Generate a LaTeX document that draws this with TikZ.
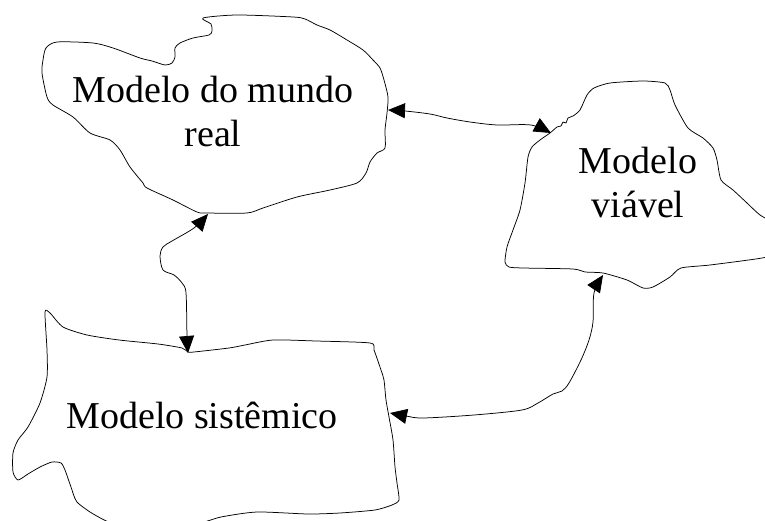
\documentclass[tikz,border=0pt]{standalone}
\usepackage{fontspec}
\usetikzlibrary{arrows.meta}
\newfontfamily\tnrfont{Liberation Serif}
\tikzset{
  outline/.style={draw=black, line width=0.75pt, line join=round},
  conn/.style={draw=black, line width=0.75pt, {Triangle[length=17pt,width=15pt]}-{Triangle[length=17pt,width=15pt]}},
  lbl/.style={font=\tnrfont\fontsize{38}{44}\selectfont, align=center, inner sep=0pt, text=black}
}
\begin{document}
\begin{tikzpicture}[x=1pt,y=-1pt]
\path[use as bounding box] (0,0) rectangle (765,521);
\clip (0,0) rectangle (765,521);
\fill[white] (0,0) rectangle (765,521);

% Shape 1: Modelo do mundo real
\draw[outline] plot[smooth cycle, tension=0.45] coordinates {
 (203,18) (237,15) (293,17) (305,19) (317,25) (330,30) (347,40) (363,50)
 (373,60) (380,68) (384,80) (388,97) (387,113) (385,130) (385,148) (377,153)
 (370,162) (366,173) (357,183) (330,190) (297,197) (263,208) (247,213) (207,213)
 (197,212) (173,200) (147,188) (143,183) (130,167) (120,150) (110,140) (90,133)
 (73,117) (53,105) (47,97) (42,73) (43,60) (46,48) (57,42) (93,43) (113,48)
 (140,58) (152,61) (165,65) (172,63) (175,57) (175,48) (180,43) (193,38)
 (209,35) (212,31) (211,24)};

% Shape 2: Modelo viavel
\draw[outline] plot[smooth cycle, tension=0.4] coordinates {
 (550,133) (540,140) (532,147) (528,157) (525,183) (520,210) (513,230) (507,247)
 (505,262) (509,267) (523,268) (573,269) (585,272) (603,273) (627,280) (643,288)
 (653,287) (670,277) (681,268) (710,265) (762,258) (780,252) (780,228)
 (760,215) (747,203) (733,190) (721,180) (717,160) (713,148) (703,138)
 (688,128) (675,105) (670,90) (665,83) (643,81) (610,83) (594,88) (587,95)
 (580,110) (573,116) (568,118) (566,123) (563,122) (561,126) (557,127)};

% Shape 3: Modelo sistemico
\draw[outline] plot[smooth cycle, tension=0.4] coordinates {
 (45,312) (50,313) (63,327) (87,335) (119,340) (158,344) (182,348) (188,352)
 (194,352) (229,348) (245,345) (273,340) (316,341) (370,343) (374,350)
 (381,370) (384,380) (386,400) (389,417) (393,440) (395,467) (397,483)
 (399,500) (392,505) (375,510) (340,513) (308,514) (257,512) (221,517)
 (190,525) (120,525) (95,515) (77,502) (71,487) (65,470) (61,463)
 (52,462) (40,467) (28,474) (18,480) (13,472) (13,453) (18,440)
 (28,427) (40,403) (47,377) (47,350)};

% Labels (anchor base = baseline of the last line)
\node[lbl, anchor=base] (t1) at (213,147) {Modelo do mundo\\real};
\node[lbl, anchor=base] (t2) at (638,218) {Modelo\\viável};
\node[lbl, anchor=base] (t3) at (202,428) {Modelo sistêmico};

% Connector end points (on outlines)
\coordinate (s1r) at (388,110);
\coordinate (s2l) at (551,133);
\coordinate (s1b) at (208,214);
\coordinate (s3t) at (188,353);
\coordinate (s3r) at (390,413);
\coordinate (s2b) at (603,275);

% Connectors
\draw[conn] plot[smooth, tension=0.5] coordinates {
 (s1r) (405,111) (430,114) (447,118) (470,122) (497,125) (531,125) (s2l)};
\draw[conn] plot[smooth, tension=0.5] coordinates {
 (s3t) (187,336) (186,293) (182,283) (174,275) (163,270) (160,256) (163,247)
 (172,241) (194,228) (s1b)};
\draw[conn] plot[smooth, tension=0.5] coordinates {
 (s3r) (406,416) (423,418) (474,415) (522,410) (538,403) (553,394) (562,391)
 (569,383) (581,360) (589,340) (593,322) (594,293) (s2b)};
\end{tikzpicture}
\end{document}
